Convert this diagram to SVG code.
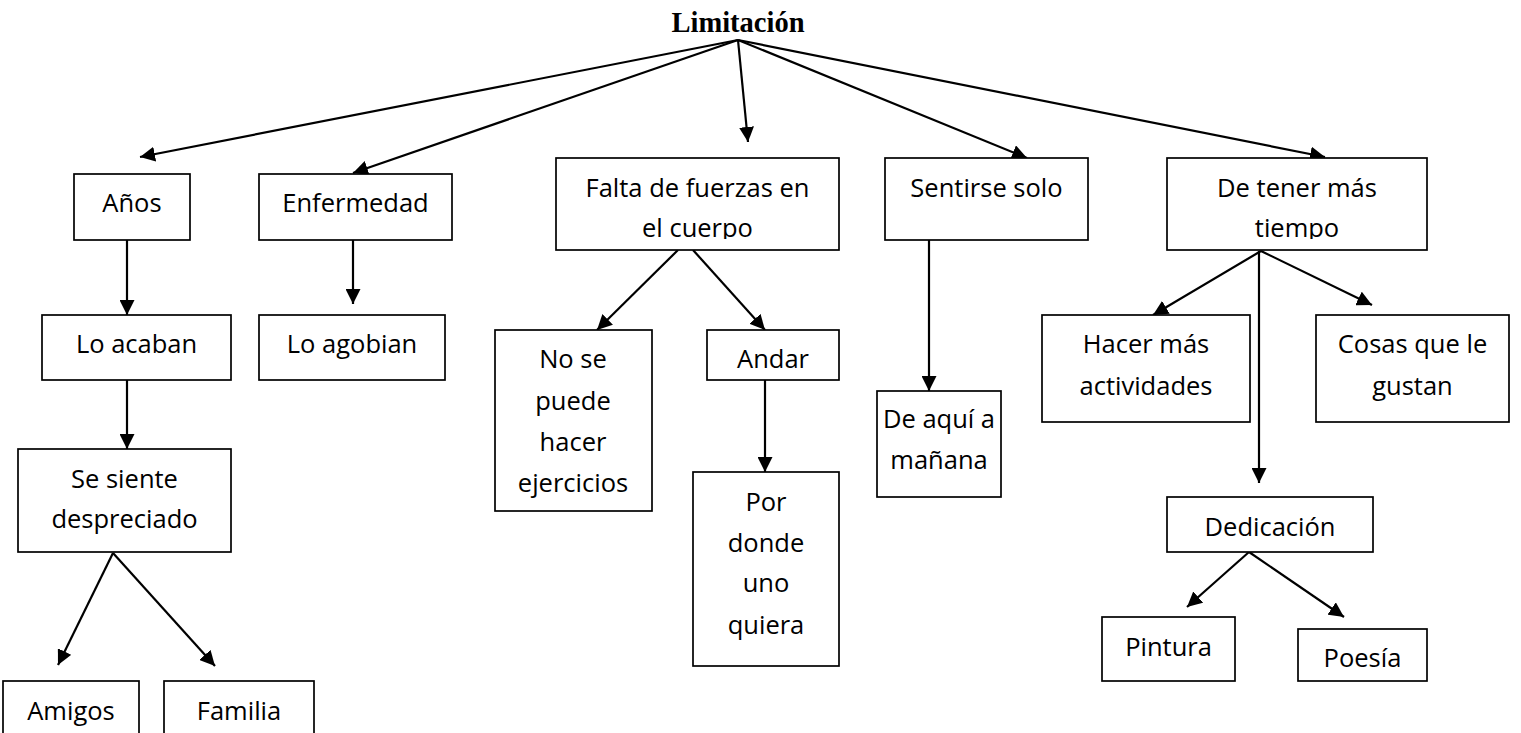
<svg xmlns="http://www.w3.org/2000/svg" width="1521" height="733" viewBox="0 0 1521 733">
<style>
.b{fill:#fff;stroke:#000;stroke-width:1.7}
.t{font-family:"Open Sans","Liberation Sans",sans-serif;font-size:25.5px;fill:#000;text-anchor:middle}
.c line{stroke:#000;stroke-width:2.2;marker-end:url(#ah)}
</style>
<defs>
<marker id="ah" markerUnits="userSpaceOnUse" markerWidth="16" markerHeight="15" refX="15" refY="7.5" orient="auto"><path d="M0,0 L15,7.5 L0,15 z" fill="#000"/></marker>
<clipPath id="clip1"><rect x="556" y="150" width="284" height="89"/></clipPath>
<clipPath id="clip2"><rect x="1167" y="150" width="261" height="89"/></clipPath>
</defs>
<rect width="1521" height="733" fill="#fff"/>
<g class="c" id="connectors">
<line x1="738" y1="40" x2="140" y2="157"/>
<line x1="738" y1="40" x2="353" y2="173"/>
<line x1="738" y1="40" x2="748" y2="142"/>
<line x1="738" y1="40" x2="1027" y2="158"/>
<line x1="738" y1="40" x2="1325" y2="157"/>
<line x1="127" y1="240" x2="127" y2="315"/>
<line x1="353" y1="240" x2="353" y2="304"/>
<line x1="127" y1="380" x2="127" y2="449"/>
<line x1="113" y1="553" x2="58" y2="665"/>
<line x1="113" y1="553" x2="215" y2="666"/>
<line x1="678" y1="250" x2="597" y2="330"/>
<line x1="693" y1="250" x2="765" y2="330"/>
<line x1="765" y1="380" x2="765" y2="472"/>
<line x1="929" y1="240" x2="929" y2="391"/>
<line x1="1261" y1="251" x2="1153" y2="315"/>
<line x1="1261" y1="251" x2="1372" y2="305"/>
<line x1="1259" y1="251" x2="1259" y2="483"/>
<line x1="1249" y1="552" x2="1187" y2="607"/>
<line x1="1249" y1="552" x2="1344" y2="617"/>
</g>
<g id="n-limitacion"><text x="738" y="32" font-family="'Liberation Serif','Times New Roman',serif" font-weight="bold" font-size="28.5" text-anchor="middle">Limitación</text></g>
<g id="n-anos"><rect class="b" x="74" y="174" width="116" height="66"/><text class="t" x="132" y="212">Años</text></g>
<g id="n-enfermedad"><rect class="b" x="259" y="174" width="193" height="66"/><text class="t" x="355.5" y="212">Enfermedad</text></g>
<g id="n-loacaban"><rect class="b" x="42" y="315" width="189" height="65"/><text class="t" x="136.5" y="353">Lo acaban</text></g>
<g id="n-loagobian"><rect class="b" x="259" y="315" width="186" height="65"/><text class="t" x="352" y="353">Lo agobian</text></g>
<g id="n-sesiente"><rect class="b" x="18" y="449" width="213" height="103"/><text class="t" x="124.5" y="488">Se siente</text><text class="t" x="124.5" y="528">despreciado</text></g>
<g id="n-amigos"><rect class="b" x="3" y="681" width="136" height="60"/><text class="t" x="71" y="720">Amigos</text></g>
<g id="n-familia"><rect class="b" x="164" y="681" width="150" height="60"/><text class="t" x="239" y="720">Familia</text></g>
<g id="n-falta"><rect class="b" x="556" y="158" width="283" height="92"/><g clip-path="url(#clip1)"><text class="t" x="697.5" y="197">Falta de fuerzas en</text><text class="t" x="697.5" y="237">el cuerpo</text></g></g>
<g id="n-nose"><rect class="b" x="495" y="330" width="157" height="181"/><text class="t" x="573" y="368">No se</text><text class="t" x="573" y="410">puede</text><text class="t" x="573" y="451">hacer</text><text class="t" x="573" y="492">ejercicios</text></g>
<g id="n-andar"><rect class="b" x="707" y="330" width="132" height="50"/><text class="t" x="773" y="368">Andar</text></g>
<g id="n-por"><rect class="b" x="693" y="472" width="146" height="194"/><text class="t" x="766" y="511">Por</text><text class="t" x="766" y="552">donde</text><text class="t" x="766" y="592">uno</text><text class="t" x="766" y="634">quiera</text></g>
<g id="n-sentirse"><rect class="b" x="885" y="158" width="203" height="82"/><text class="t" x="986.5" y="197">Sentirse solo</text></g>
<g id="n-deaqui"><rect class="b" x="877" y="391" width="124" height="106"/><text class="t" x="939" y="428">De aquí a</text><text class="t" x="939" y="469">mañana</text></g>
<g id="n-detener"><rect class="b" x="1167" y="158" width="260" height="92"/><g clip-path="url(#clip2)"><text class="t" x="1297" y="197">De tener más</text><text class="t" x="1297" y="237">tiempo</text></g></g>
<g id="n-hacer"><rect class="b" x="1042" y="315" width="208" height="107"/><text class="t" x="1146" y="353">Hacer más</text><text class="t" x="1146" y="395">actividades</text></g>
<g id="n-cosas"><rect class="b" x="1316" y="315" width="193" height="107"/><text class="t" x="1412.5" y="353">Cosas que le</text><text class="t" x="1412.5" y="395">gustan</text></g>
<g id="n-dedicacion"><rect class="b" x="1167" y="497" width="206" height="55"/><text class="t" x="1270" y="536">Dedicación</text></g>
<g id="n-pintura"><rect class="b" x="1102" y="617" width="133" height="64"/><text class="t" x="1168.5" y="656">Pintura</text></g>
<g id="n-poesia"><rect class="b" x="1298" y="629" width="129" height="52"/><text class="t" x="1362.5" y="667">Poesía</text></g>
</svg>
